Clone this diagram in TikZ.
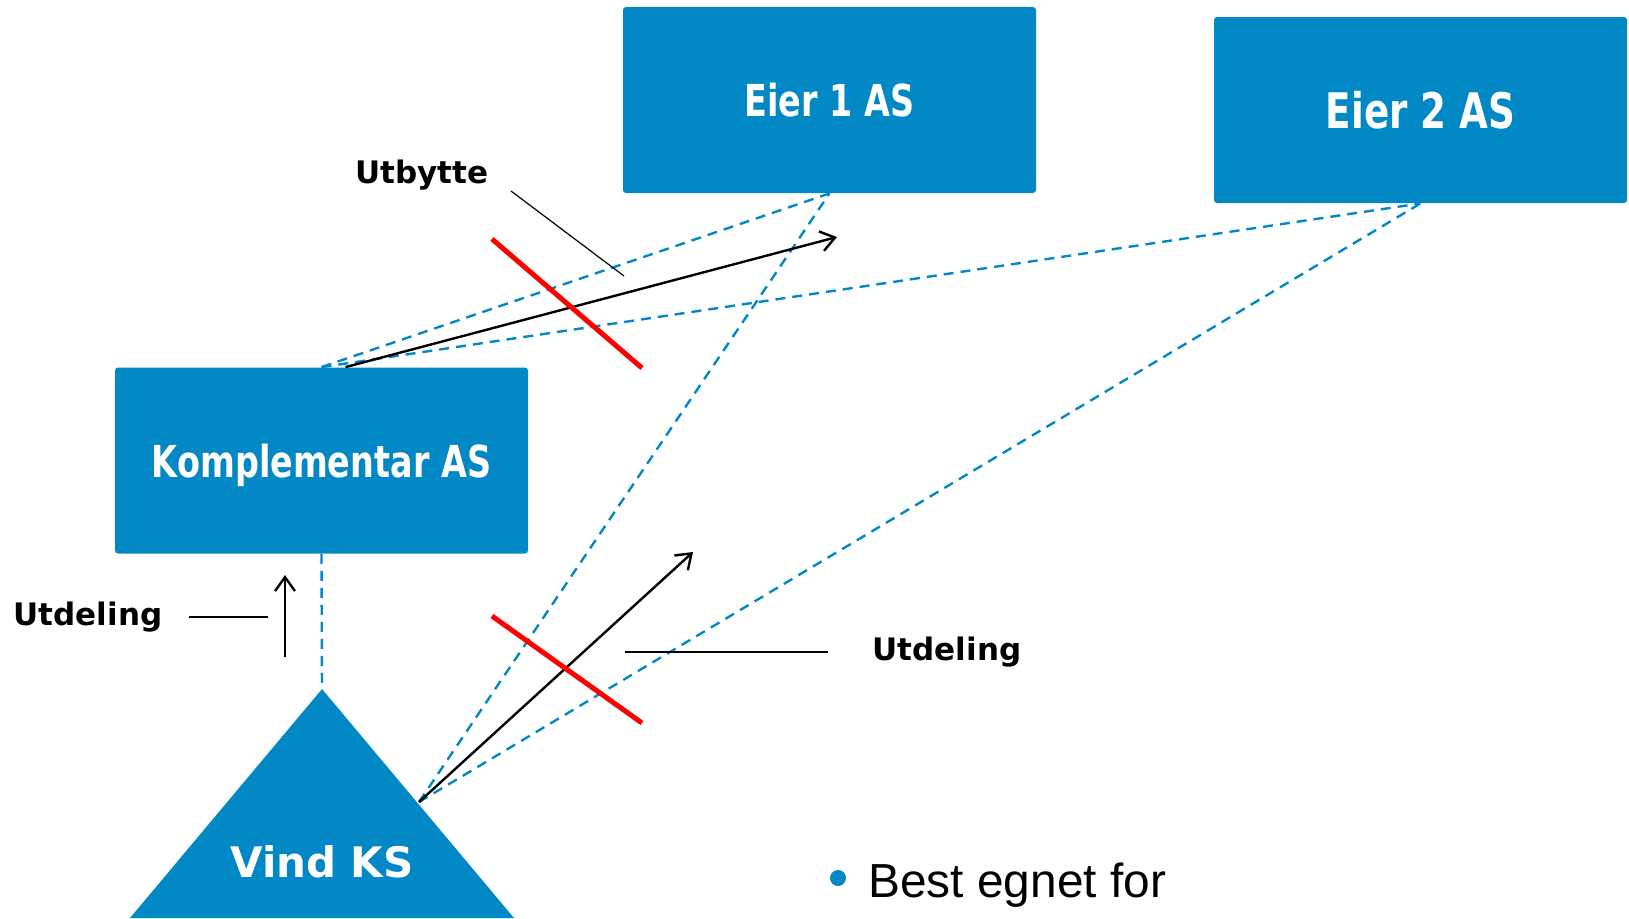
\documentclass[tikz,border=0pt]{standalone}
\usepackage{fontspec}
\setmainfont{Liberation Sans}
\newfontfamily\boxfont[FakeStretch=0.76]{DejaVu Sans}
\newfontfamily\lblfont{DejaVu Sans}
\usetikzlibrary{arrows.meta}
\definecolor{vindblue}{RGB}{2,136,196}
\begin{document}
\begin{tikzpicture}[x=0.5pt,y=-0.5pt,
 box/.style={fill=vindblue,rounded corners=1.5pt,minimum width=206.5pt,minimum height=93pt,inner sep=0pt,text=white,font=\boxfont\bfseries\fontsize{22}{26}\selectfont},
 own/.style={vindblue,line width=1.2pt,dash pattern=on 5pt off 3.5pt},
 pay/.style={black,line width=1.2pt,-{Straight Barb[length=7pt,width=10pt]}},
 lbl/.style={inner sep=0pt,font=\lblfont\bfseries\fontsize{15.5}{18}\selectfont},
 lead/.style={black,line width=0.6pt},
 stop/.style={red,line width=2.5pt}]
\useasboundingbox (0,0) rectangle (1629,918);
\node[box] (eier1) at (829.5,100) {Eier 1 AS};
\node[box,font=\boxfont\bfseries\fontsize{24.5}{28}\selectfont] (eier2) at (1420.5,110) {Eier 2 AS};
\node[box,text depth=0pt] (komp) at (321.5,460.5) {Komplementar AS};
\fill[vindblue] (322,689) coordinate (vindtop) -- (130,918) -- (514,918) -- cycle;
\coordinate (vindside) at (419,802);
\node[inner sep=0pt,text=white,font=\lblfont\bfseries\fontsize{21}{24}\selectfont] (vind) at (322,862) {Vind KS};

\draw[own] (komp.north) -- (eier1.south);
\draw[own] (komp.north) -- (eier2.south);
\draw[own] (vindside) -- (eier1.south);
\draw[own] (vindside) -- (eier2.south);
\draw[own] (komp.south) -- (vindtop);

\coordinate (paytop) at (837,237);
\coordinate (paymid) at (693,552);
\coordinate (upfrom) at (285,657);
\coordinate (upto) at (285,575);
\draw[pay] ([xshift=12pt]komp.north) -- (paytop);
\draw[pay] (vindside) -- (paymid);
\draw[pay] (upfrom) -- (upto);

\draw[stop] (492,239) -- (642,368);
\draw[stop] (492,616) -- (642,723);

\node[lbl] (utbytte) at (422,175) {Utbytte};
\node[lbl] (utdelingl) at (88,617) {Utdeling};
\node[lbl] (utdelingr) at (947,652) {Utdeling};
\coordinate (utbyttetip) at (624,276);
\coordinate (utdelingltip) at (268,617);
\coordinate (utdelingrtip) at (625,652);
\draw[lead] (511,191) -- (utbyttetip);
\draw[lead] ([xshift=13pt]utdelingl.east) -- (utdelingltip);
\draw[lead] ([xshift=-22pt]utdelingr.west) -- (utdelingrtip);

\fill[vindblue] (838,878) circle (4pt);
\node[anchor=base west,inner sep=0pt,font=\fontsize{23.9}{28}\selectfont] (best) at (868,897) {Best egnet for};
\end{tikzpicture}
\end{document}
